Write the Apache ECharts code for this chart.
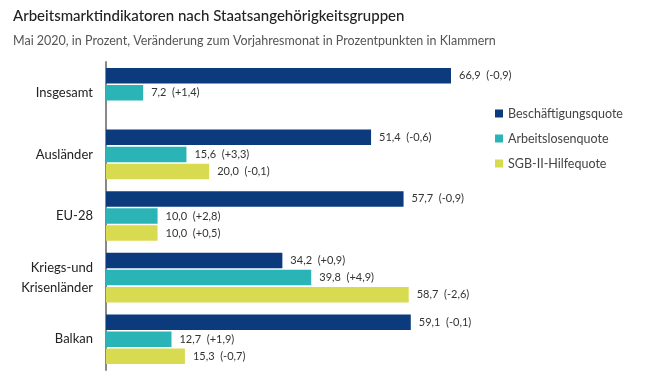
<!DOCTYPE html>
<html><head><meta charset="utf-8">
<script src="https://cdn.jsdelivr.net/npm/echarts@6/dist/echarts.min.js"></script>
<style>html,body{margin:0;padding:0;background:#fff}#c{width:658px;height:380px}</style>
</head><body><div id="c"></div>
<script>
const categories = ['Insgesamt', 'Ausländer', 'EU-28', 'Kriegs-und\nKrisenländer', 'Balkan'];
const seriesNames = ['Beschäftigungsquote', 'Arbeitslosenquote', 'SGB-II-Hilfequote'];
const beschaeftigung = [66.9, 51.4, 57.7, 34.2, 59.1];
const beschaeftigungDelta = ['-0,9', '-0,6', '-0,9', '+0,9', '-0,1'];
const arbeitslos = [7.2, 15.6, 10.0, 39.8, 12.7];
const arbeitslosDelta = ['+1,4', '+3,3', '+2,8', '+4,9', '+1,9'];
const sgb = [null, 20.0, 10.0, 58.7, 15.3];
const sgbDelta = [null, '-0,1', '+0,5', '-2,6', '-0,7'];
const colors = ['#0B3B7C', '#2BB4B6', '#D8DB4F'];

const FONT = 'Lato';
function mk(name, vals, deltas, color) {
  return {
    name: name, type: 'bar', data: vals, barWidth: 15.5, barGap: '10%',
    itemStyle: { color: color },
    label: {
      show: true, position: 'right', distance: 8, color: '#333', fontSize: 11, fontFamily: FONT,
      formatter: p => p.value == null ? '' : p.value.toFixed(1).replace('.', ',') + '  (' + deltas[p.dataIndex] + ')'
    }
  };
}
const chart = echarts.init(document.getElementById('c'));
chart.setOption({
  animation: false,
  title: [
    { text: 'Arbeitsmarktindikatoren nach Staatsangehörigkeitsgruppen', left: 8, top: 4,
      textStyle: { fontFamily: FONT, fontSize: 15, fontWeight: 500, color: '#222' } },
    { text: 'Mai 2020, in Prozent, Veränderung zum Vorjahresmonat in Prozentpunkten in Klammern', left: 8, top: 29,
      textStyle: { fontFamily: FONT, fontSize: 12.5, fontWeight: 'normal', color: '#555' } }
  ],
  legend: {
    orient: 'vertical', left: 490, top: 102, itemWidth: 8, itemHeight: 8, itemGap: 12,
    icon: 'rect', textStyle: { fontFamily: FONT, fontSize: 12.5, color: '#444' },
    data: seriesNames
  },
  grid: { left: 106, top: 62, width: 400, height: 308, containLabel: false },
  xAxis: { type: 'value', min: 0, max: 400 / 5.157, show: false },
  yAxis: {
    type: 'category', data: categories, inverse: true,
    axisLine: { lineStyle: { color: '#888', width: 2 } },
    axisTick: { show: false },
    axisLabel: { fontFamily: FONT, fontSize: 13, color: '#222', margin: 13, lineHeight: 20 }
  },
  series: [
    mk(seriesNames[0], beschaeftigung, beschaeftigungDelta, colors[0]),
    mk(seriesNames[1], arbeitslos, arbeitslosDelta, colors[1]),
    mk(seriesNames[2], sgb, sgbDelta, colors[2])
  ]
});
</script></body></html>
